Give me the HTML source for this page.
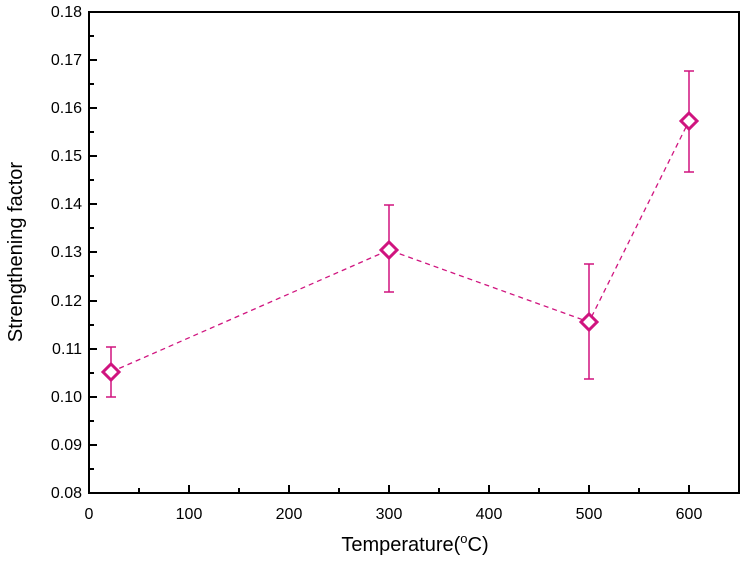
<!DOCTYPE html><html><head><style>body{margin:0;background:#fff}</style></head><body>
<svg width="743" height="557" xmlns="http://www.w3.org/2000/svg" font-family="Liberation Sans, Arial, sans-serif">
<rect x="89" y="12" width="650" height="481" fill="none" stroke="#000" stroke-width="2"/>
<g stroke="#000" stroke-width="2">
<path d="M89 493v-8M139 493v-5M189 493v-8M239 493v-5M289 493v-8M339 493v-5M389 493v-8M439 493v-5M489 493v-8M539 493v-5M589 493v-8M639 493v-5M689 493v-8"/>
<path d="M89 493h8M89 469h5M89 445h8M89 421h5M89 397h8M89 373h5M89 349h8M89 325h5M89 301h8M89 276h5M89 252h8M89 228h5M89 204h8M89 180h5M89 156h8M89 132h5M89 108h8M89 84h5M89 60h8M89 36h5M89 12h8"/>
</g>
<g font-size="16" text-anchor="end">
<text x="82" y="498">0.08</text><text x="82" y="450">0.09</text><text x="82" y="402">0.10</text><text x="82" y="354">0.11</text><text x="82" y="306">0.12</text><text x="82" y="257">0.13</text><text x="82" y="209">0.14</text><text x="82" y="161">0.15</text><text x="82" y="113">0.16</text><text x="82" y="65">0.17</text><text x="82" y="17">0.18</text>
</g>
<g font-size="16" text-anchor="middle">
<text x="89" y="519">0</text><text x="189" y="519">100</text><text x="289" y="519">200</text><text x="389" y="519">300</text><text x="489" y="519">400</text><text x="589" y="519">500</text><text x="689" y="519">600</text>
</g>
<text x="415" y="551" font-size="20" text-anchor="middle">Temperature(<tspan font-size="13" dy="-8">o</tspan><tspan dy="8">C)</tspan></text>
<text transform="translate(22 252) rotate(-90)" font-size="20" text-anchor="middle">Strengthening factor</text>
<g stroke="#d0147f" fill="none">
<polyline points="111,372 389,250 589,322 689,121" stroke-dasharray="5,4" stroke-width="1.3"/>
<g stroke-width="1.5">
<path d="M111 397V347M106 397h10M106 347h10"/>
<path d="M389 292V205M384 292h10M384 205h10"/>
<path d="M589 379V264M584 379h10M584 264h10"/>
<path d="M689 172V71M684 172h10M684 71h10"/>
</g>
<g stroke-width="3" fill="#fff">
<path d="M111 364l8 8-8 8-8-8z"/>
<path d="M389 242l8 8-8 8-8-8z"/>
<path d="M589 314l8 8-8 8-8-8z"/>
<path d="M689 113l8 8-8 8-8-8z"/>
</g>
</g>
</svg>
</body></html>
